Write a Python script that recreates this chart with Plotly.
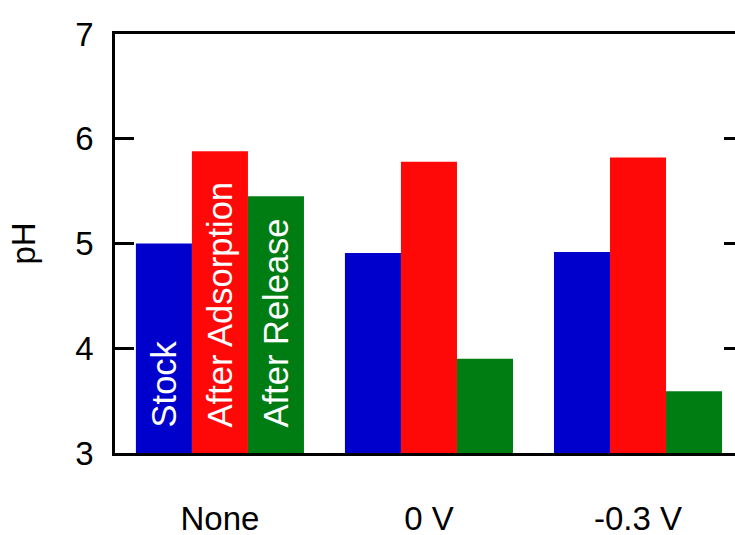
import plotly.graph_objects as go

# pH of the solution at each stage, for each applied potential
conditions = ["None", "0 V", "-0.3 V"]
stock = [5.00, 4.91, 4.92]
after_adsorption = [5.88, 5.78, 5.82]
after_release = [5.45, 3.90, 3.59]

series_names = ["Stock", "After Adsorption", "After Release"]
series_values = [stock, after_adsorption, after_release]
series_colors = ["#0000CD", "#FF0808", "#007D12"]

FONT = "Liberation Sans, Arial, sans-serif"
BARGAP = 0.196

fig = go.Figure()
for name, vals, col in zip(series_names, series_values, series_colors):
    fig.add_trace(go.Bar(
        x=conditions, y=vals, name=name,
        marker=dict(color=col, line=dict(width=0)),
    ))

# series names written inside the first group of bars
bar_w = (1 - BARGAP) / len(series_names)
for i, name in enumerate(series_names):
    fig.add_annotation(
        x=(i - 1) * bar_w, y=3, xref="x", yref="y",
        text=name, textangle=-90, showarrow=False,
        xanchor="center", yanchor="bottom", yshift=24,
        font=dict(family=FONT, size=34.5, color="white"),
    )

# invisible trace so the right-hand tick axis is drawn
fig.add_trace(go.Scatter(x=[conditions[0]], y=[3], yaxis="y2",
                         mode="markers", marker=dict(opacity=0),
                         showlegend=False, hoverinfo="skip"))

fig.update_layout(
    width=735, height=535,
    margin=dict(l=115, r=0, t=34, b=82),
    paper_bgcolor="white", plot_bgcolor="white",
    barmode="group", bargap=BARGAP, bargroupgap=0,
    showlegend=False,
    font=dict(family=FONT, size=33, color="black"),
    xaxis=dict(
        range=[-0.502, 2.464], showline=True, linecolor="black", linewidth=2.5,
        mirror=True, ticks="", showgrid=False, zeroline=False, automargin=False,
        tickfont=dict(size=33), ticklabelstandoff=35,
    ),
    yaxis=dict(
        range=[3, 7], tickvals=[3, 4, 5, 6, 7], showline=True,
        linecolor="black", linewidth=2.5, ticks="inside", ticklen=19,
        tickwidth=2.5, tickcolor="black", showgrid=False, zeroline=False,
        automargin=False, tickfont=dict(size=33), ticklabelstandoff=12,
        title=dict(text="pH", font=dict(size=33), standoff=30),
    ),
    yaxis2=dict(
        range=[3, 7], tickvals=[3, 4, 5, 6, 7], overlaying="y", side="right",
        showline=False, ticks="inside", ticklen=11, tickwidth=2.5,
        tickcolor="black", showticklabels=False, showgrid=False,
        zeroline=False, automargin=False,
    ),
)

fig.write_html("out.html")
